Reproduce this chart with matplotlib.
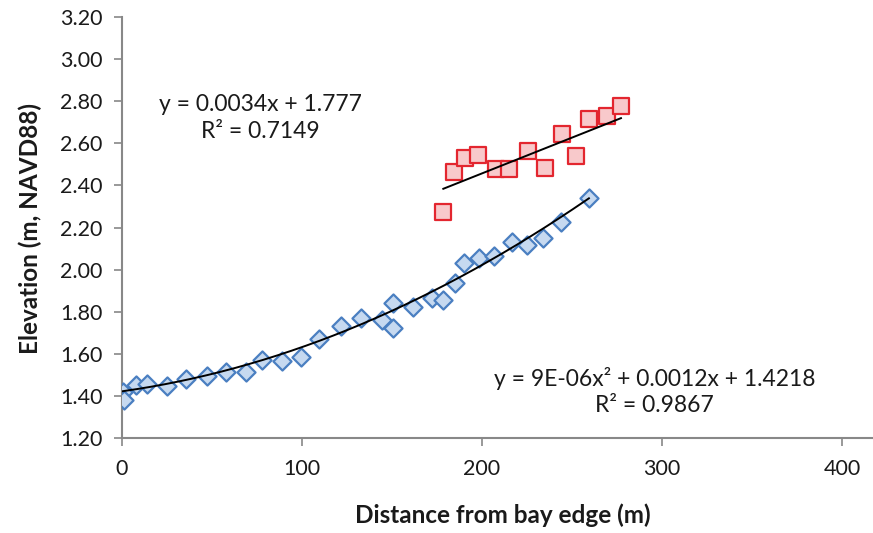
import numpy as np
import matplotlib
matplotlib.use("Agg")
import matplotlib.pyplot as plt

plt.rcParams['font.family'] = ['Lato', 'DejaVu Sans']

# Lower marsh transect (blue diamonds)
low_x = [0.4, 1.3, 8, 14, 25, 35.6, 47, 58, 69, 78, 88.7, 99.4, 109.4, 121.5, 132.8,
         144.3, 150.7, 150.7, 161.8, 172, 178.5, 185, 190, 198.3, 206.7, 216.5, 225,
         233.7, 243.9, 259.4]
low_y = [1.417, 1.38, 1.452, 1.456, 1.448, 1.479, 1.494, 1.513, 1.513, 1.57, 1.567,
         1.583, 1.67, 1.733, 1.771, 1.76, 1.843, 1.724, 1.824, 1.864, 1.855, 1.935,
         2.03, 2.054, 2.065, 2.133, 2.117, 2.149, 2.228, 2.339]

# Upper transect (red squares)
high_x = [178.5, 184.6, 190.5, 198, 207.6, 215, 225.4, 235, 244.6, 252, 259.4, 269.3, 277.2]
high_y = [2.272, 2.462, 2.529, 2.544, 2.476, 2.476, 2.563, 2.481, 2.644, 2.54, 2.714,
          2.73, 2.779]

# trendline coefficients (highest power first)
low_fit = [9e-06, 0.0012, 1.4218]
high_fit = [0.0034, 1.777]
low_r2 = 0.9867
high_r2 = 0.7149

yticks = [1.2, 1.4, 1.6, 1.8, 2.0, 2.2, 2.4, 2.6, 2.8, 3.0, 3.2]
xticks = [0, 100, 200, 300, 400]

fig = plt.figure(figsize=(8.73, 5.33), dpi=100)
ax = fig.add_axes([122 / 873, (533 - 438) / 533, 1 - 122 / 873, (438 - 17) / 533])

ax.scatter(low_x, low_y, marker='D', s=85, facecolor='#c6d9f0', edgecolor='#4a7fc1',
           linewidths=1.6, zorder=3)
ax.scatter(high_x, high_y, marker='s', s=135, facecolor='#f8c9cb', edgecolor='#e3262f',
           linewidths=1.6, zorder=3)

xs = np.linspace(min(low_x), max(low_x), 200)
ax.plot(xs, np.polyval(low_fit, xs), color='black', lw=1.4, zorder=4)
xs = np.linspace(min(high_x), max(high_x), 50)
ax.plot(xs, np.polyval(high_fit, xs), color='black', lw=1.4, zorder=4)

ax.text(77, 2.72, "y = 0.0034x + 1.777\nR² = %.4f" % high_r2, ha='center', va='center',
        fontsize=16.5, linespacing=1.3, color='#1a1a1a')
ax.text(296, 1.423, "y = 9E-06x² + 0.0012x + 1.4218\nR² = %.4f" % low_r2, ha='center',
        va='center', fontsize=16.5, linespacing=1.3, color='#1a1a1a')

ax.set_xlim(0, (873 - 122) / 1.8)
ax.set_ylim(1.2, 3.2)
ax.set_xticks(xticks)
ax.set_yticks(yticks)
ax.set_yticklabels(["%.2f" % v for v in yticks])
ax.tick_params(axis='both', direction='out', length=6, width=1.2, color='#888888',
               labelsize=15.5, labelcolor='#1a1a1a')
ax.tick_params(axis='x', pad=9)
ax.tick_params(axis='y', pad=8)

for side in ['top', 'right']:
    ax.spines[side].set_visible(False)
for side in ['left', 'bottom']:
    ax.spines[side].set_color('#888888')
    ax.spines[side].set_linewidth(1.5)

fig.text(503 / 873, 1 - 515 / 533, "Distance from bay edge (m)", ha='center', va='center',
         fontsize=17.5, fontweight='bold', color='#1a1a1a')
fig.text(30 / 873, 1 - 228 / 533, "Elevation (m, NAVD88)", ha='center', va='center',
         rotation=90, fontsize=17.5, fontweight='bold', color='#1a1a1a')

fig.savefig("out.png", dpi=100)
